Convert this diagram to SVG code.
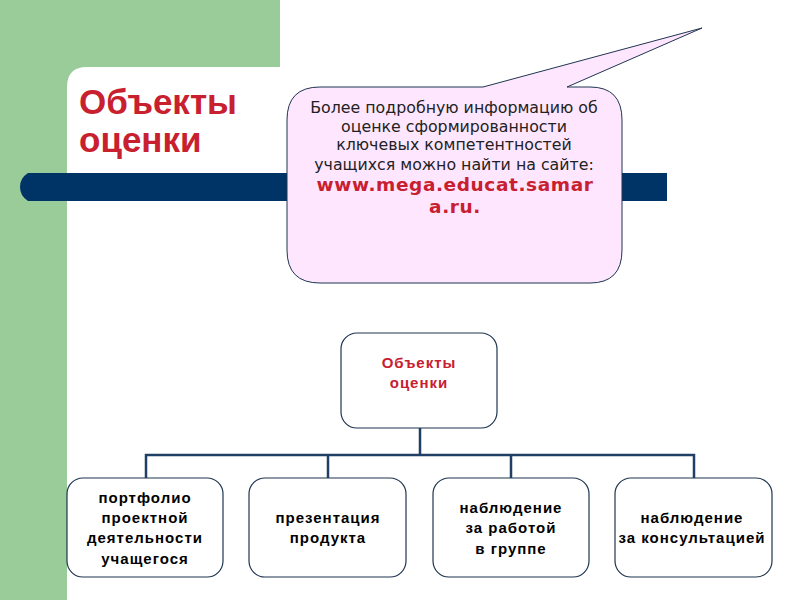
<svg xmlns="http://www.w3.org/2000/svg" width="800" height="600" viewBox="0 0 800 600">
<style>
.box{fill:#fff;stroke:#1f3550;stroke-width:1.2}
.lbl{font-family:"Liberation Sans",Arial,sans-serif;font-weight:bold;font-size:15px;letter-spacing:1px;fill:#000;text-anchor:middle}
.red{fill:#c8202f}
.conn{fill:none;stroke:#1f3f66;stroke-width:2.5}
.call{font-family:"DejaVu Sans",sans-serif;font-size:15.8px;fill:#222;text-anchor:middle}
.url{font-family:"DejaVu Sans",sans-serif;font-weight:bold;font-size:18.5px;letter-spacing:0.6px;fill:#c8202f;text-anchor:middle}
.title{font-family:"Liberation Sans",Arial,sans-serif;font-weight:bold;font-size:35px;fill:#c8202f}
</style>
<rect width="800" height="600" fill="#fff"/>
<g id="background">
<path d="M0 0H280V67H87Q67 67 67 87V600H0Z" fill="#99cc99"/>
<path d="M28 173H667V201H28Q20 196 20 187Q20 178 28 173Z" fill="#003366"/>
<text class="title" x="79" y="114">Объекты</text>
<text class="title" x="79" y="152">оценки</text>
</g>
<g id="callout">
<path d="M320 87H483L702 28L567 87H590Q622 87 622 120V250Q622 283 590 283H320Q287 283 287 250V120Q287 87 320 87Z" fill="#ffe6ff" stroke="#1f3550" stroke-width="1"/>
<text class="call" x="454" y="113">Более подробную информацию об</text>
<text class="call" x="454" y="132">оценке сформированности</text>
<text class="call" x="454" y="150">ключевых компетентностей</text>
<text class="call" x="454" y="170">учащихся можно найти на сайте:</text>
<text class="url" x="455" y="191">www.mega.educat.samar</text>
<text class="url" x="455" y="213">a.ru.</text>
</g>
<g id="connectors">
<path class="conn" d="M420 428V455M146 478V455H694V478M328 455V478M511 455V478"/>
</g>
<g id="root">
<rect class="box" x="341" y="333" width="156" height="95" rx="16"/>
<text class="lbl red" x="419" y="368">Объекты</text>
<text class="lbl red" x="419" y="388">оценки</text>
</g>
<g id="n1">
<rect class="box" x="67" y="478" width="156" height="99" rx="16"/>
<text class="lbl" x="145" y="503">портфолио</text>
<text class="lbl" x="145" y="523">проектной</text>
<text class="lbl" x="145" y="543">деятельности</text>
<text class="lbl" x="145" y="564">учащегося</text>
</g>
<g id="n2">
<rect class="box" x="249" y="478" width="157" height="99" rx="16"/>
<text class="lbl" x="328" y="523">презентация</text>
<text class="lbl" x="328" y="543">продукта</text>
</g>
<g id="n3">
<rect class="box" x="433" y="478" width="156" height="99" rx="16"/>
<text class="lbl" x="511" y="513">наблюдение</text>
<text class="lbl" x="511" y="533">за работой</text>
<text class="lbl" x="511" y="554">в группе</text>
</g>
<g id="n4">
<rect class="box" x="615" y="478" width="157" height="99" rx="16"/>
<text class="lbl" x="692" y="523">наблюдение</text>
<text class="lbl" x="692" y="543">за консультацией</text>
</g>
</svg>
